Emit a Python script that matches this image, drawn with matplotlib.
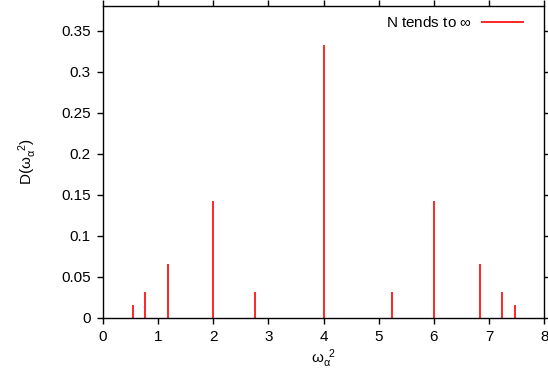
import matplotlib.pyplot as plt

plt.rcParams['font.family'] = ['Liberation Sans', 'DejaVu Sans']
plt.rcParams['mathtext.fontset'] = 'custom'
plt.rcParams['mathtext.rm'] = 'Liberation Sans'
plt.rcParams['mathtext.it'] = 'Liberation Sans'
plt.rcParams['mathtext.default'] = 'regular'

# impulse positions (omega_alpha^2) and weights D
omega2 = [0.536, 0.764, 1.172, 2.0, 2.764, 4.0, 5.236, 6.0, 6.828, 7.236, 7.464]
dens = [0.016, 0.032, 0.066, 0.142, 0.032, 0.333, 0.032, 0.142, 0.066, 0.032, 0.016]

xticks = [0, 1, 2, 3, 4, 5, 6, 7, 8]
yticks = [0, 0.05, 0.1, 0.15, 0.2, 0.25, 0.3, 0.35]
ytick_labels = ['0', '0.05', '0.1', '0.15', '0.2', '0.25', '0.3', '0.35']

fig = plt.figure(figsize=(5.48, 3.78), dpi=100)
ax = fig.add_axes([0.188, 0.159, 0.805, 0.825])

ax.vlines(omega2, 0, dens, colors='#ff0000', linewidth=1.2, label=r'N tends to $\infty$')

ax.set_xlim(0, 8)
ax.set_ylim(0, 0.38)
ax.set_xticks(xticks)
ax.set_yticks(yticks)
ax.set_yticklabels(ytick_labels)
ax.tick_params(direction='out', length=4, width=1, labelsize=11,
               top=True, right=True, pad=5)
for sp in ax.spines.values():
    sp.set_linewidth(1)

ax.set_xlabel(r'$\omega_{\alpha}^{\ \ 2}$', fontsize=11, labelpad=2)
ax.set_ylabel(r'D($\omega_{\alpha}^{\ \ 2}$)', fontsize=11, labelpad=16)

ax.legend(loc='upper right', frameon=False, fontsize=11, handlelength=2.8,
          markerfirst=False, borderaxespad=0.2, handletextpad=0.6,
          bbox_to_anchor=(0.975, 1.0))

fig.savefig('out.png', dpi=100)
